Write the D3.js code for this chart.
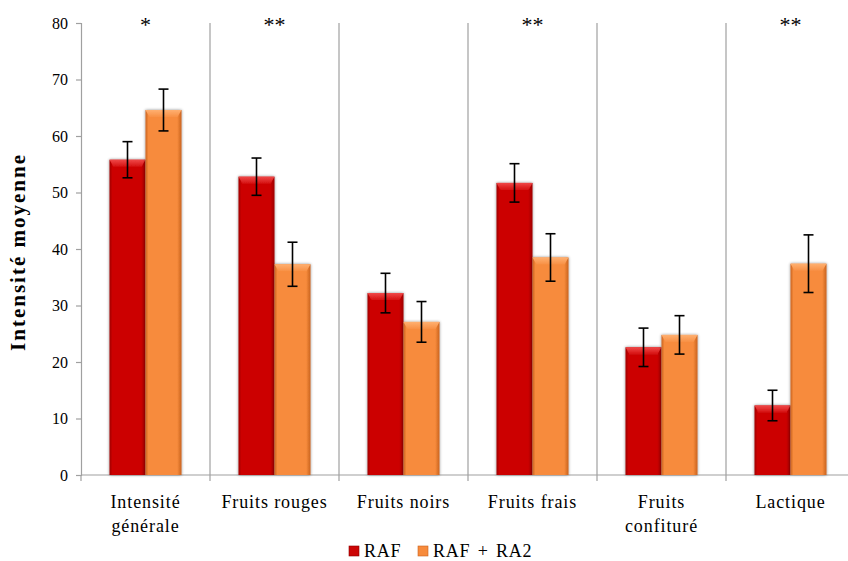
<!DOCTYPE html>
<html><head><meta charset="utf-8">
<script src="https://cdn.jsdelivr.net/npm/d3@7"></script>
<style>
html,body{margin:0;padding:0;background:#fff;overflow:hidden}
svg text{font-family:'Liberation Serif','DejaVu Serif',serif !important}
</style></head>
<body><svg id="c" width="848" height="561" font-family="Liberation Serif, DejaVu Serif, serif"></svg>
<script>
const categories = ["Intensité générale","Fruits rouges","Fruits noirs","Fruits frais","Fruits confituré","Lactique"];
const categoryLines = [["Intensité","générale"],["Fruits rouges"],["Fruits noirs"],["Fruits frais"],["Fruits","confituré"],["Lactique"]];
const seriesNames = ["RAF","RAF + RA2"];
const rafValues = [55.8, 52.8, 32.2, 51.7, 22.6, 12.3];
const rafErrors = [3.2, 3.3, 3.5, 3.4, 3.4, 2.7];
const ra2Values = [64.6, 37.3, 27.1, 38.5, 24.8, 37.4];
const ra2Errors = [3.7, 3.9, 3.6, 4.2, 3.4, 5.1];
const significance = ["*","**","","**","","**"];
const yTicks = [0,10,20,30,40,50,60,70,80];

(function(){
const svg = d3.select("#c");
const pL=81, pR=855, pT=23, pB=475;
const x = d3.scaleBand().domain(categories).range([pL,pR]).paddingInner(0).paddingOuter(0);
const y = d3.scaleLinear().domain([0,80]).range([pB,pT]);
const xs = d3.scaleBand().domain(seriesNames).range([28.5, x.bandwidth()-28.5]).padding(0);

const defs = svg.append("defs");
function makeGrad(id, dark, mid){
  const g = defs.append("linearGradient").attr("id",id).attr("x1","0").attr("x2","1").attr("y1","0").attr("y2","0");
  g.append("stop").attr("offset","0").attr("stop-color",dark);
  g.append("stop").attr("offset","0.08").attr("stop-color",mid);
  g.append("stop").attr("offset","0.88").attr("stop-color",mid);
  g.append("stop").attr("offset","1").attr("stop-color",dark);
}
makeGrad("gRed","#9e0000","#cc0505");
makeGrad("gOr","#c9631f","#f78b3c");
const topRed = defs.append("linearGradient").attr("id","tRed").attr("x1","0").attr("x2","0").attr("y1","0").attr("y2","1");
topRed.append("stop").attr("offset","0").attr("stop-color","#f04848");
topRed.append("stop").attr("offset","1").attr("stop-color","#d41010");
const topOr = defs.append("linearGradient").attr("id","tOr").attr("x1","0").attr("x2","0").attr("y1","0").attr("y2","1");
topOr.append("stop").attr("offset","0").attr("stop-color","#ffb070");
topOr.append("stop").attr("offset","1").attr("stop-color","#f89045");
const f = defs.append("filter").attr("id","sh").attr("x","-20%").attr("y","-10%").attr("width","140%").attr("height","120%");
f.append("feGaussianBlur").attr("in","SourceAlpha").attr("stdDeviation","1.5").attr("result","b");
f.append("feComponentTransfer").attr("in","b").attr("result","o2").append("feFuncA").attr("type","linear").attr("slope","0.45");
const fm = f.append("feMerge"); fm.append("feMergeNode").attr("in","o2"); fm.append("feMergeNode").attr("in","SourceGraphic");

// separators
svg.append("g").selectAll("line").data(categories.slice(1)).join("line")
  .attr("x1",d=>x(d)).attr("x2",d=>x(d)).attr("y1",pT).attr("y2",pB)
  .attr("stroke","#a0a0a0").attr("stroke-width",1.2);

// axes
const yAxis = d3.axisLeft(y).tickValues(yTicks).tickSize(5).tickPadding(8);
const gy = svg.append("g").attr("transform",`translate(${pL},0)`).call(yAxis);
gy.attr("font-family","Liberation Serif, DejaVu Serif, serif");
gy.select(".domain").attr("stroke","#a0a0a0").attr("stroke-width",1.2);
gy.selectAll(".tick line").attr("stroke","#a0a0a0").attr("stroke-width",1.2);
gy.selectAll(".tick text").attr("font-size","16px").attr("fill","#000");

svg.append("line").attr("x1",pL).attr("x2",pR).attr("y1",pB).attr("y2",pB).attr("stroke","#a0a0a0").attr("stroke-width",1.2);
svg.append("g").selectAll("line").data(categories).join("line")
  .attr("x1",d=>x(d)).attr("x2",d=>x(d)).attr("y1",pB).attr("y2",pB+6)
  .attr("stroke","#a0a0a0").attr("stroke-width",1.2);

// bars
const series = [
  {name:seriesNames[0], vals:rafValues, errs:rafErrors, fill:"url(#gRed)", topf:"url(#tRed)"},
  {name:seriesNames[1], vals:ra2Values, errs:ra2Errors, fill:"url(#gOr)", topf:"url(#tOr)"}
];
series.forEach(s=>{
  const g = svg.append("g");
  categories.forEach((c,i)=>{
    const bx = x(c)+xs(s.name), bw = xs.bandwidth(), by = y(s.vals[i]), bh = pB-by;
    const bg = g.append("g").attr("filter","url(#sh)");
    bg.append("rect").attr("x",bx).attr("y",by).attr("width",bw).attr("height",bh).attr("fill",s.fill);
    bg.append("path").attr("d",`M${bx},${by}L${bx+bw},${by}L${bx+bw-4},${by+7}L${bx+4},${by+7}Z`).attr("fill",s.topf);
  });
});

// error bars
series.forEach(s=>{
  const g = svg.append("g").attr("stroke","#000").attr("stroke-width",1.6);
  categories.forEach((c,i)=>{
    const cx = x(c)+xs(s.name)+xs.bandwidth()/2;
    const y1 = y(s.vals[i]+s.errs[i]), y2 = y(s.vals[i]-s.errs[i]);
    g.append("line").attr("x1",cx).attr("x2",cx).attr("y1",y1).attr("y2",y2);
    g.append("line").attr("x1",cx-5).attr("x2",cx+5).attr("y1",y1).attr("y2",y1);
    g.append("line").attr("x1",cx-5).attr("x2",cx+5).attr("y1",y2).attr("y2",y2);
  });
});

// significance
svg.append("g").selectAll("text").data(categories).join("text")
  .attr("x",d=>x(d)+x.bandwidth()/2).attr("y",32).attr("text-anchor","middle")
  .attr("font-size","22px").text((d,i)=>significance[i]);

// category labels
categories.forEach((c,i)=>{
  const t = svg.append("text").attr("x",x(c)+x.bandwidth()/2).attr("y",508).attr("text-anchor","middle")
    .attr("font-size","18px").attr("letter-spacing","0.9px").attr("fill","#000");
  categoryLines[i].forEach((ln,j)=>t.append("tspan").attr("x",x(c)+x.bandwidth()/2).attr("dy",j===0?0:24).text(ln));
});

// y title
svg.append("text").attr("transform",`translate(25,${(pT+pB)/2 + 3}) rotate(-90)`).attr("text-anchor","middle")
  .attr("font-size","21px").attr("font-weight","bold").attr("letter-spacing","2px").text("Intensité moyenne");

// legend
const legItems = [{n:seriesNames[0],fill:"#cc0505",edge:"#8a0000"},{n:seriesNames[1],fill:"#f78b3c",edge:"#c9631f"}];
const lx = [349, 418];
legItems.forEach((d,i)=>{
  svg.append("rect").attr("x",lx[i]).attr("y",546).attr("width",10).attr("height",10).attr("fill",d.fill).attr("stroke",d.edge).attr("stroke-width",0.6);
  svg.append("text").attr("x",lx[i]+15).attr("y",557).attr("font-size","18px").attr("letter-spacing","0.8px").attr("word-spacing","2px").text(d.n);
});
})();
</script></body></html>
